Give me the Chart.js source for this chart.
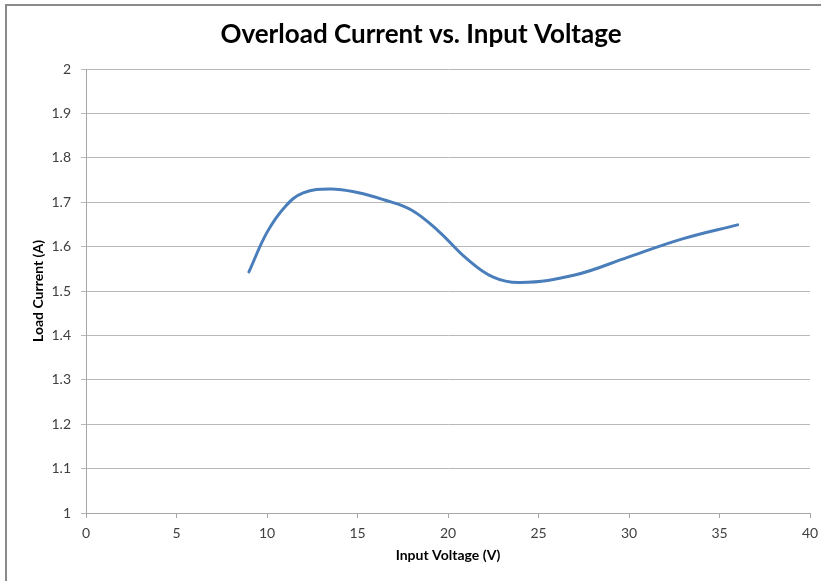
<!DOCTYPE html>
<html>
<head>
<meta charset="utf-8">
<script src="https://cdn.jsdelivr.net/npm/chart.js@4/dist/chart.umd.min.js"></script>
<style>
  html, body { margin: 0; padding: 0; background: #ffffff; }
  #wrap { position: relative; width: 821px; height: 581px; overflow: hidden; }
  #frame { position: absolute; left: 5px; top: 4px; width: 830px; height: 600px;
           border-left: 2px solid #8a8a8a; border-top: 2px solid #8a8a8a; box-sizing: border-box; }
  canvas { position: absolute; left: 0; top: 0; }
</style>
</head>
<body>
<div id="wrap">
  <div id="frame"></div>
  <canvas id="c" width="821" height="581"></canvas>
</div>
<script>
// Data
const inputVoltage = [9, 10, 11, 12, 13.5, 15, 16.5, 18, 19.5, 21, 22.5, 24, 27, 30, 33, 36];
const loadCurrent  = [1.543, 1.632, 1.690, 1.721, 1.730, 1.722, 1.705, 1.682, 1.634, 1.574, 1.531, 1.519, 1.536, 1.577, 1.618, 1.649];

const chartTitle = 'Overload Current vs. Input Voltage';
const xTitle = 'Input Voltage (V)';
const yTitle = 'Load Current (A)';
const xMin = 0, xMax = 40, xStep = 5;
const yMin = 1, yMax = 2, yStep = 0.1;

const points = inputVoltage.map((v, i) => ({ x: v, y: loadCurrent[i] }));
const FONT = "Lato, 'Open Sans', sans-serif";

// Chart title drawn as canvas text, centred where the reference places it
const titlePlugin = {
  id: 'centredTitle',
  afterDraw(chart) {
    const ctx = chart.ctx;
    ctx.save();
    ctx.font = "bold 26px " + FONT;
    ctx.fillStyle = '#000000';
    ctx.textAlign = 'center';
    ctx.textBaseline = 'middle';
    ctx.fillText(chartTitle, 421, 35);
    ctx.restore();
  }
};

new Chart(document.getElementById('c'), {
  type: 'scatter',
  data: {
    datasets: [{
      data: points,
      showLine: true,
      borderColor: '#4a7ebb',
      backgroundColor: '#4a7ebb',
      borderWidth: 3,
      pointRadius: 0,
      pointHoverRadius: 0,
      tension: 0.4,
      cubicInterpolationMode: 'default',
      borderCapStyle: 'round',
      borderJoinStyle: 'round'
    }]
  },
  plugins: [titlePlugin],
  options: {
    responsive: false,
    animation: false,
    devicePixelRatio: 1,
    layout: { padding: { left: 0, right: 11, top: 69, bottom: 0 } },
    plugins: {
      legend: { display: false },
      tooltip: { enabled: false },
      title: { display: false }
    },
    scales: {
      x: {
        type: 'linear',
        min: xMin, max: xMax,
        afterFit: (s) => { s.height = 68; s.paddingRight = 0; s.paddingLeft = 0; },
        ticks: {
          stepSize: xStep,
          color: '#404040',
          font: { family: FONT, size: 14 },
          padding: 7,
          maxRotation: 0
        },
        grid: {
          display: true,
          drawOnChartArea: false,
          drawTicks: true,
          tickLength: 5,
          color: '#a6a6a6'
        },
        border: { display: true, color: '#a6a6a6', width: 1 },
        title: {
          display: true,
          text: xTitle,
          color: '#000000',
          font: { family: FONT, size: 14, weight: 'bold' },
          padding: { top: 2, bottom: 17 }
        }
      },
      y: {
        type: 'linear',
        min: yMin, max: yMax,
        afterFit: (s) => { s.width = 86; s.paddingTop = 0; s.paddingBottom = 0; },
        ticks: {
          stepSize: yStep,
          color: '#404040',
          font: { family: FONT, size: 14 },
          padding: 10,
          callback: (v) => Number(v.toFixed(1)).toString()
        },
        grid: {
          display: true,
          drawTicks: true,
          tickLength: 5,
          color: '#b8b8b8',
          lineWidth: 1
        },
        border: { display: true, color: '#a6a6a6', width: 1 },
        title: {
          display: true,
          text: yTitle,
          color: '#000000',
          font: { family: FONT, size: 14, weight: 'bold' },
          padding: { top: 30, bottom: 0 }
        }
      }
    }
  }
});
</script>
</body>
</html>
